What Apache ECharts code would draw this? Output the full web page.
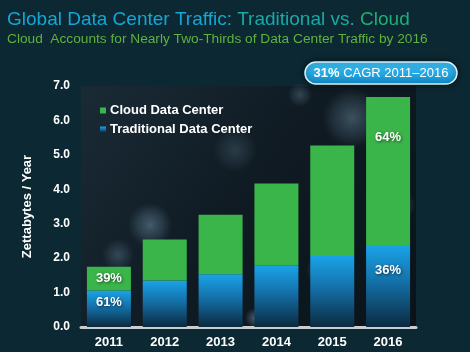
<!DOCTYPE html>
<html>
<head>
<meta charset="utf-8">
<script src="https://cdn.jsdelivr.net/npm/echarts@6/dist/echarts.min.js"></script>
<style>
html,body{margin:0;padding:0;background:#0c2832;}
#main{width:470px;height:352px;}
</style>
</head>
<body>
<div id="main"></div>
<script>
var years = ['2011', '2012', '2013', '2014', '2015', '2016'];
var traditional = [1.06, 1.35, 1.53, 1.79, 2.06, 2.38];
var cloud = [0.69, 1.19, 1.73, 2.38, 3.21, 4.30];
var tradLabels = ['61%', '', '', '', '', '36%'];
var cloudLabels = ['39%', '', '', '', '', '64%'];
var yTicks = ['0.0', '1.0', '2.0', '3.0', '4.0', '5.0', '6.0', '7.0'];

var chart = echarts.init(document.getElementById('main'));

// how far below the segment top each label sits
var tradDist = [5, 0, 0, 0, 0, 19];
var cloudDist = [5, 0, 0, 0, 0, 34];

var labelStyle = {
    color: '#fff',
    fontWeight: 'bold',
    fontSize: 13,
    fontFamily: 'Liberation Sans, Arial, sans-serif',
    textShadowColor: 'rgba(0,0,0,0.6)',
    textShadowBlur: 3,
    textShadowOffsetX: 1,
    textShadowOffsetY: 1
};

function makeData(values, labels, dist) {
    return values.map(function (v, i) {
        return {
            value: v,
            label: {
                show: labels[i] !== '',
                position: 'insideTop',
                distance: dist[i],
                formatter: labels[i]
            }
        };
    });
}

var blueGrad = new echarts.graphic.LinearGradient(0, 0, 0, 1, [
    {offset: 0, color: '#1aa3e8'},
    {offset: 0.45, color: '#1470a8'},
    {offset: 1, color: '#0b2a40'}
]);

function cloudBlob(x, y, rx, ry, a) {
    return {
        type: 'ellipse',
        silent: true,
        shape: {cx: x, cy: y, rx: rx, ry: ry},
        style: {
            fill: new echarts.graphic.RadialGradient(0.5, 0.5, 0.5, [
                {offset: 0, color: 'rgba(130,165,190,' + a + ')'},
                {offset: 0.6, color: 'rgba(110,145,170,' + (a * 0.5) + ')'},
                {offset: 1, color: 'rgba(100,130,150,0)'}
            ])
        }
    };
}

var option = {
    backgroundColor: '#0c2832',
    animation: false,
    textStyle: {fontFamily: 'Liberation Sans, Arial, sans-serif'},
    grid: {
        left: 81, right: 54, top: 86, bottom: 25,
        show: true,
        borderWidth: 0,
        backgroundColor: new echarts.graphic.LinearGradient(0, 0, 1, 1, [
            {offset: 0, color: '#1a2b36'},
            {offset: 0.5, color: '#0f1a22'},
            {offset: 1, color: '#0a1319'}
        ])
    },
    legend: {
        orient: 'vertical',
        left: 95,
        top: 99,
        itemWidth: 6,
        itemHeight: 6,
        itemGap: 6,
        icon: 'rect',
        data: ['Cloud Data Center', 'Traditional Data Center'],
        textStyle: {color: '#fff', fontWeight: 'bold', fontSize: 13, padding: [0, 0, 0, -1]}
    },
    xAxis: {
        type: 'category',
        data: years,
        axisLine: {lineStyle: {color: '#c9cdd0', width: 3}},
        axisTick: {show: false},
        axisLabel: {color: '#fff', fontWeight: 'bold', fontSize: 13, margin: 9}
    },
    yAxis: {
        type: 'value',
        min: 0,
        max: 7,
        interval: 1,
        name: 'Zettabytes / Year',
        nameLocation: 'middle',
        nameRotate: 90,
        nameGap: 47,
        nameTextStyle: {color: '#fff', fontWeight: 'bold', fontSize: 13},
        splitLine: {show: false},
        axisLine: {show: false},
        axisTick: {show: false},
        axisLabel: {
            color: '#fff', fontWeight: 'bold', fontSize: 12, margin: 11,
            formatter: function (v) { return yTicks[Math.round(v)]; }
        }
    },
    series: [{
        name: 'Traditional Data Center',
        type: 'bar',
        stack: 'dc',
        barWidth: 44,
        z: 3,
        itemStyle: {color: blueGrad},
        label: labelStyle,
        data: makeData(traditional, tradLabels, tradDist)
    }, {
        name: 'Cloud Data Center',
        type: 'bar',
        stack: 'dc',
        barWidth: 44,
        z: 3,
        itemStyle: {color: '#3ab54a'},
        label: labelStyle,
        data: makeData(cloud, cloudLabels, cloudDist)
    }],
    graphic: [
        {
            type: 'group',
            silent: true,
            z: 1,
            children: [
                cloudBlob(150, 225, 45, 22, 0.45),
                cloudBlob(118, 255, 30, 16, 0.3),
                cloudBlob(255, 318, 45, 10, 0.5),
                cloudBlob(322, 270, 16, 40, 0.4),
                cloudBlob(352, 118, 40, 30, 0.4),
                cloudBlob(235, 150, 35, 22, 0.22),
                cloudBlob(112, 300, 28, 18, 0.3),
                cloudBlob(402, 205, 14, 40, 0.25),
                cloudBlob(170, 300, 30, 15, 0.22),
                cloudBlob(300, 95, 30, 12, 0.3)
            ]
        },
        {
            type: 'text',
            left: 7,
            top: 10,
            style: {
                text: '{a|Global Data Center Traffic: }{b|Traditional vs. }{c|Cloud}',
                font: '19px "Liberation Sans", Arial, sans-serif',
                rich: {
                    a: {fill: '#14a6d6', fontSize: 19},
                    b: {fill: '#17aaa6', fontSize: 19},
                    c: {fill: '#1fae78', fontSize: 19}
                }
            }
        },
        {
            type: 'text',
            left: 7,
            top: 32,
            style: {
                text: 'Cloud  Accounts for Nearly Two-Thirds of Data Center Traffic by 2016',
                font: '13.7px "Liberation Sans", Arial, sans-serif',
                fill: '#5fb23e'
            }
        },
        {
            type: 'rect',
            z: 10,
            shape: {x: 305, y: 62, width: 152, height: 22, r: 11},
            style: {
                fill: new echarts.graphic.LinearGradient(0, 0, 0, 1, [
                    {offset: 0, color: '#3ec0f2'},
                    {offset: 1, color: '#0f8fd0'}
                ]),
                stroke: '#d8f0fb',
                lineWidth: 1.5,
                shadowBlur: 6,
                shadowColor: 'rgba(0,0,0,0.5)'
            }
        },
        {
            type: 'text',
            z: 11,
            x: 381,
            y: 73,
            style: {
                text: '{b|31%} CAGR 2011\u20132016',
                align: 'center',
                verticalAlign: 'middle',
                fill: '#fff',
                font: '13px "Liberation Sans", Arial, sans-serif',
                rich: {b: {fontWeight: 'bold', fontSize: 13, fill: '#fff'}}
            }
        }
    ]
};
chart.setOption(option);
</script>
</body>
</html>
